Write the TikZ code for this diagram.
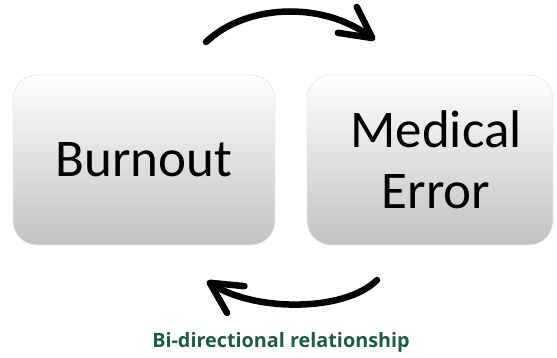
\documentclass[tikz,border=0pt]{standalone}
\usepackage{fontspec}
\setmainfont{Carlito}
\newfontfamily\captionfont{Open Sans}
\usetikzlibrary{arrows.meta}
\definecolor{labelgreen}{HTML}{215A45}
\tikzset{
  box/.style={rectangle, rounded corners=24pt, top color=white, bottom color=black!24,
    draw=black!8, line width=0.8pt, align=center, font=\fontsize{53}{61}\selectfont,
    minimum height=170pt, inner sep=0pt},
  cycle/.style={line width=6.5pt, line cap=round, line join=round,
    -{Straight Barb[length=31pt, width=32pt, line cap=round, line join=round]}},
}
\begin{document}
\begin{tikzpicture}[x=1pt, y=-1pt]
  \useasboundingbox (0,0) rectangle (557,358);
  \node[box, minimum width=262pt] (burnout) at (144,160) {Burnout};
  \node[box, minimum width=246pt] (error) at (430,160) {\hspace*{12pt}Medical\\\hspace*{12pt}Error};
  % arrows running between the two boxes
  \coordinate (topstart) at (206,42);
  \coordinate (topend) at (375,40);
  \coordinate (botstart) at (377,280);
  \coordinate (botend) at (207,281);
  \draw[cycle] (topstart) .. controls (245,5) and (320,0) .. (topend);
  \draw[cycle] (botstart) .. controls (345,312) and (255,312) .. (botend);
  \node[font=\captionfont\bfseries\fontsize{19.8}{23}\selectfont, text=labelgreen] (caption) at (281,342) {Bi-directional relationship};
\end{tikzpicture}
\end{document}
